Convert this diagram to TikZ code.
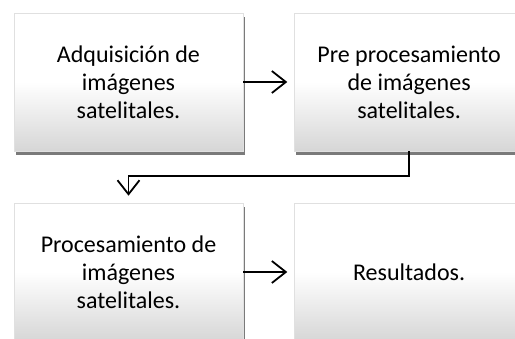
\documentclass[tikz,border=0pt]{standalone}
\usepackage{fontspec}
\setmainfont{Carlito}
\usepackage{tikz}
\usetikzlibrary{arrows.meta, shadows, positioning}

\begin{document}
\begin{tikzpicture}[x=1pt, y=-1pt,
    caja/.style={rectangle, minimum width=229pt, minimum height=138pt, align=center,
        draw=black!12, line width=0.6pt, top color=white, bottom color=black!16, middle color=white,
        drop shadow={shadow xshift=1.5pt, shadow yshift=-3.5pt, fill=black!80, opacity=.65},
        font=\fontsize{24}{28}\selectfont},
    flecha/.style={line width=1.8pt, -{Straight Barb[length=14pt, width=22pt]}, shorten >=7pt}]

    % Marco de la figura
    \clip (0,0) rectangle (515,338);

    % Cajas del proceso
    \node[caja] (adq) at (128.5,82) {Adquisición de\\imágenes\\satelitales.};
    \node[caja, right=51pt of adq] (pre) {Pre procesamiento\\de imágenes\\satelitales.};
    \node[caja] (proc) at (128.5,272) {Procesamiento de\\imágenes\\satelitales.};
    \node[caja, right=51pt of proc] (res) {Resultados.};

    % Flechas entre cajas
    \draw[flecha] (adq) -- (pre);
    \draw[flecha] (pre.south) -- ++(0,25) -| (proc.north);
    \draw[flecha] (proc) -- (res);

\end{tikzpicture}
\end{document}
